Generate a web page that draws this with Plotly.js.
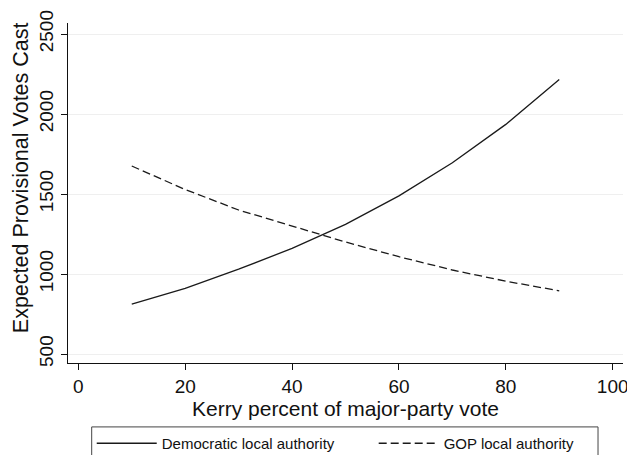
<!DOCTYPE html>
<html>
<head>
<meta charset="utf-8">
<script src="https://cdn.plot.ly/plotly-3.0.1.min.js"></script>
<style>html,body{margin:0;padding:0;background:#fff;}#chart{width:627px;height:455px;}</style>
</head>
<body>
<div id="chart"></div>
<script>
var kerryPct = [10, 20, 30, 40, 50, 60, 70, 80, 90];
var demVotes = [812, 910, 1030, 1160, 1310, 1488, 1695, 1935, 2215];
var gopVotes = [1675, 1528, 1400, 1298, 1200, 1108, 1025, 955, 895];
var xTicks = [0, 20, 40, 60, 80, 100];
var yTicks = [500, 1000, 1500, 2000, 2500];
var seriesNames = ['Democratic local authority', 'GOP local authority'];

var FONT = 'Liberation Sans, Arial, sans-serif';

var traces = [
  {x: kerryPct, y: demVotes, name: seriesNames[0], type: 'scatter', mode: 'lines', legend: 'legend',
   line: {color: '#1a1a1a', width: 1.3}},
  {x: kerryPct, y: gopVotes, name: seriesNames[1], type: 'scatter', mode: 'lines', legend: 'legend2',
   line: {color: '#1a1a1a', width: 1.3, dash: '8px,4px'}}
];

function legendAt(x) {
  return {
    orientation: 'h', xref: 'container', yref: 'container',
    x: x, xanchor: 'left', y: 0.0615, yanchor: 'top',
    itemwidth: 60,
    font: {size: 15, family: FONT, color: '#111'},
    bgcolor: 'rgba(0,0,0,0)', borderwidth: 0
  };
}

var layout = {
  width: 627, height: 455,
  margin: {l: 68, r: 4, t: 23, b: 92},
  paper_bgcolor: '#ffffff', plot_bgcolor: '#ffffff',
  font: {family: FONT, color: '#111'},
  showlegend: true,
  xaxis: {
    range: [-1.93, 101.93], tickvals: xTicks, ticktext: xTicks.map(String), automargin: false,
    ticklabeloverflow: 'allow',
    showgrid: false, zeroline: false, showline: true, linecolor: '#111', linewidth: 1.2,
    ticks: 'outside', ticklen: 6, tickcolor: '#111', tickwidth: 1,
    tickfont: {size: 19, family: FONT, color: '#111'},
    title: {text: 'Kerry percent of major-party vote', font: {size: 21, family: FONT, color: '#111'}, standoff: 4}
  },
  yaxis: {
    range: [443.75, 2568.75], tickvals: yTicks, ticktext: yTicks.map(String), automargin: false,
    showgrid: true, gridcolor: '#efefef', gridwidth: 1, zeroline: false,
    showline: true, linecolor: '#111', linewidth: 1.2,
    ticks: 'outside', ticklen: 6, tickcolor: '#111', tickwidth: 1, tickangle: -90,
    tickfont: {size: 19, family: FONT, color: '#111'}
  },
  annotations: [{
    text: 'Expected Provisional Votes Cast', textangle: -90,
    xref: 'paper', yref: 'paper', x: -0.0834, y: 0.5456,
    xanchor: 'center', yanchor: 'middle', showarrow: false,
    font: {size: 21.5, family: FONT, color: '#111'}
  }],
  legend: legendAt(0.1463),
  legend2: legendAt(0.596),
  shapes: [{
    type: 'rect', xref: 'paper', yref: 'paper',
    x0: 0.0427, x1: 0.955, y0: -0.188, y1: -0.30,
    line: {color: '#444', width: 1}, fillcolor: 'rgba(0,0,0,0)'
  }]
};

Plotly.newPlot('chart', traces, layout, {displayModeBar: false, staticPlot: true});
</script>
</body>
</html>
